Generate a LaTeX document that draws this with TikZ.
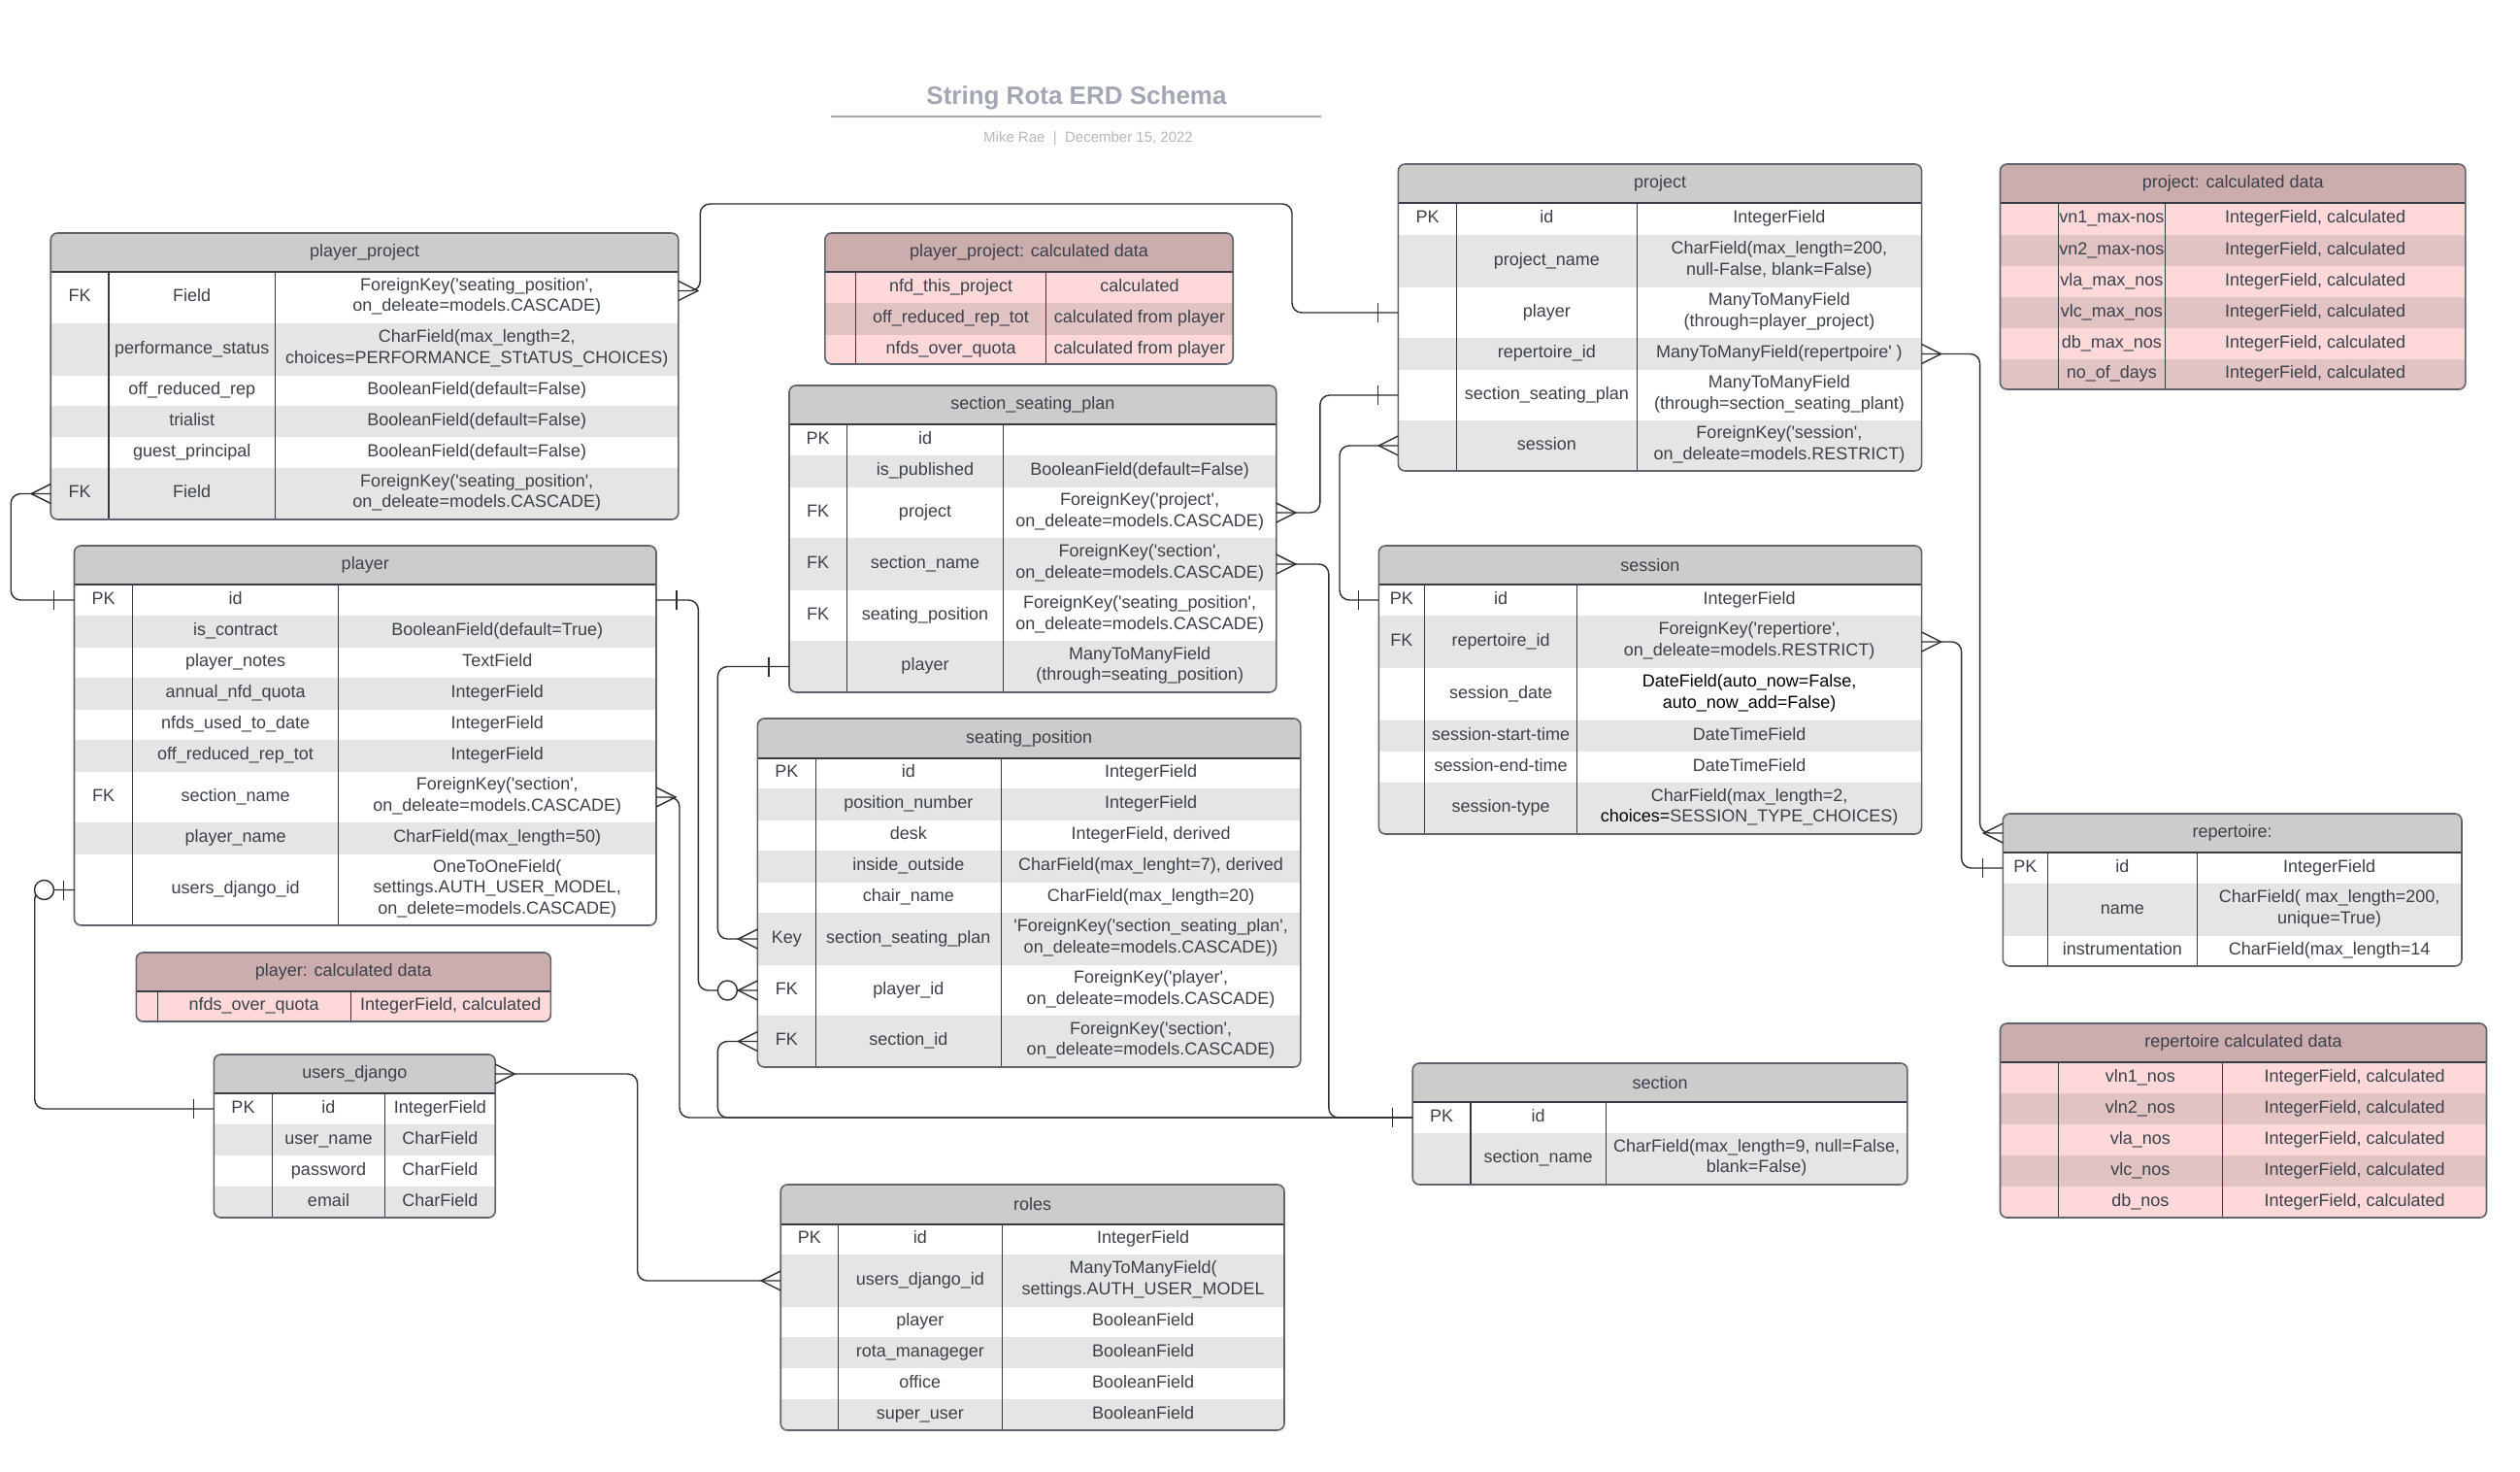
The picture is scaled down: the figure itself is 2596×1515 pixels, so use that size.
\documentclass[tikz,border=0pt]{standalone}
\usepackage{fontspec}
\setmainfont{Liberation Sans}
\definecolor{txt}{HTML}{3B4049}
\definecolor{hdrgray}{HTML}{CCCCCC}
\definecolor{rowgray}{HTML}{E5E5E5}
\definecolor{calchdr}{HTML}{CCADAE}
\definecolor{pinkA}{HTML}{FFD9DA}
\definecolor{pinkB}{HTML}{E2C3C3}
\definecolor{bord}{HTML}{5F636B}
\definecolor{innerc}{HTML}{363B44}
\definecolor{conncol}{HTML}{2E2E2E}
\definecolor{titlecol}{HTML}{A3A7B3}
\definecolor{subcol}{HTML}{B4B7BF}
\newcommand\q{\textquotesingle}
\newcounter{erdrow}
\def\erdsetx#1,#2,#3,#4\relax{\gdef\erdXa{#1}\gdef\erdXb{#2}\gdef\erdXc{#3}\gdef\erdXd{#4}}
\def\erdsety#1,#2,#3\relax{\gdef\erdYa{#1}\gdef\erdYh{#2}\gdef\erdYb{#3}}
\newcommand\erdbegin[5]{%
  \gdef\erdname{#1}\erdsetx#2\relax\erdsety#3\relax\setcounter{erdrow}{0}%
  \begin{scope}
  \clip[rounded corners=7pt] (\erdXa,\erdYa) rectangle (\erdXd,\erdYb);
  \node[hdr, fill=#4, minimum width={(\erdXd-\erdXa)*1pt}, minimum height={(\erdYh-\erdYa)*1pt}, anchor=north west] (#1) at (\erdXa,\erdYa) {#5};
}
\newcommand\erdrow[6]{%
  \stepcounter{erdrow}%
  \node[rowbox, fill=#3, minimum width={(\erdXd-\erdXa)*1pt}, minimum height={(#2-#1)*1pt}, anchor=north west] (\erdname-\arabic{erdrow}) at (\erdXa,#1) {};
  \node[cell] (\erdname-\arabic{erdrow}k) at ({(\erdXa+\erdXb)/2},{(#1+#2)/2}) {#4};
  \node[cell] (\erdname-\arabic{erdrow}f) at ({(\erdXb+\erdXc)/2},{(#1+#2)/2}) {#5};
  \node[cell] (\erdname-\arabic{erdrow}t) at ({(\erdXc+\erdXd)/2},{(#1+#2)/2}) {#6};
}
\newcommand\erdend{%
  \end{scope}
  \draw[sepline] (\erdXa,\erdYh) -- (\erdXd,\erdYh);
  \draw[sepline] (\erdXb,\erdYh) -- (\erdXb,\erdYb);
  \draw[sepline] (\erdXc,\erdYh) -- (\erdXc,\erdYb);
  \draw[border, rounded corners=7pt] (\erdXa,\erdYa) rectangle (\erdXd,\erdYb);
}
\newcommand\crow[2]{\draw[mk] ([yshift=10pt]#1) -- ([xshift=#2*20pt]#1) -- ([yshift=-10pt]#1);}
\newcommand\onebar[3]{\draw[mk] ([xshift=#2*#3pt, yshift=10pt]#1) -- ([xshift=#2*#3pt, yshift=-10pt]#1);}
\newcommand\zerocirc[3]{\draw[mk, fill=white] ([xshift=#2*#3pt]#1) circle (10pt);}
\tikzset{
  every node/.style={font=\fontsize{18}{21.5}\selectfont, text=txt},
  rowbox/.style={inner sep=0pt, outer sep=0pt, draw=none},
  hdr/.style={inner sep=0pt, outer sep=0pt, draw=none},
  cell/.style={inner sep=0pt, align=center, execute at begin node=\strut, execute at end node=\strut},
  conn/.style={draw=conncol, line width=1.4pt, rounded corners=10pt},
  mk/.style={draw=conncol, line width=1.4pt},
  border/.style={draw=bord, line width=1.6pt},
  sepline/.style={draw=innerc, line width=1.3pt},
}
\begin{document}
\begin{tikzpicture}[x=1pt, y=-1pt]
\useasboundingbox (0,0) rectangle (2596,1515);
\fill[white] (0,0) rectangle (2596,1515);

% title
\node[font=\fontsize{26}{30}\selectfont\bfseries, text=titlecol] (title) at (1109,101) {String Rota ERD Schema};
\draw[titlecol, line width=2.5pt] (856,120) -- (1361,120);
\node[font=\fontsize{15}{18}\selectfont, text=subcol] (subtitle) at (1121,143) {Mike Rae \ \textbar\ \ December 15, 2022};

% player_project
\erdbegin{pp}{52.2,111.9,283.6,698.9}{240,280,535}{hdrgray}{player\_project}
\erdrow{280}{333}{white}{FK}{Field}{ForeignKey(\q seating\_position\q,\\on\_deleate=models.CASCADE)}
\erdrow{333}{387}{rowgray}{}{performance\_status}{CharField(max\_length=2,\\choices=PERFORMANCE\_STtATUS\_CHOICES)}
\erdrow{387}{418}{white}{}{off\_reduced\_rep}{BooleanField(default=False)}
\erdrow{418}{450}{rowgray}{}{trialist}{BooleanField(default=False)}
\erdrow{450}{482}{white}{}{guest\_principal}{BooleanField(default=False)}
\erdrow{482}{535}{rowgray}{FK}{Field}{ForeignKey(\q seating\_position\q,\\on\_deleate=models.CASCADE)}
\erdend

% player_project calculated
\erdbegin{ppc}{849.8,881.3,1077.8,1270.2}{240,280,375}{calchdr}{player\_project: calculated data}
\erdrow{280}{312}{pinkA}{}{nfd\_this\_project}{calculated}
\erdrow{312}{345}{pinkB}{}{off\_reduced\_rep\_tot}{calculated from player}
\erdrow{345}{375}{pinkA}{}{nfds\_over\_quota}{calculated from player}
\erdend

% player
\erdbegin{pl}{76.5,136.7,348.5,676}{562,602,953}{hdrgray}{player}
\erdrow{602}{634}{white}{PK}{id}{}
\erdrow{634}{667}{rowgray}{}{is\_contract}{BooleanField(default=True)}
\erdrow{667}{698}{white}{}{player\_notes}{TextField}
\erdrow{698}{731}{rowgray}{}{annual\_nfd\_quota}{IntegerField}
\erdrow{731}{762}{white}{}{nfds\_used\_to\_date}{IntegerField}
\erdrow{762}{795}{rowgray}{}{off\_reduced\_rep\_tot}{IntegerField}
\erdrow{795}{847}{white}{FK}{section\_name}{ForeignKey(\q section\q,\\on\_deleate=models.CASCADE)}
\erdrow{847}{880}{rowgray}{}{player\_name}{CharField(max\_length=50)}
\erdrow{880}{953}{white}{}{users\_django\_id}{OneToOneField(\\settings.AUTH\_USER\_MODEL,\\on\_delete=models.CASCADE)}
\erdend

% player calculated
\erdbegin{plc}{140.3,162.2,361.2,567.3}{981,1021,1052}{calchdr}{player: calculated data}
\erdrow{1021}{1052}{pinkA}{}{nfds\_over\_quota}{IntegerField, calculated}
\erdend

% users_django
\erdbegin{ud}{220.4,280.6,396.4,510.2}{1086,1126,1254}{hdrgray}{users\_django}
\erdrow{1126}{1158}{white}{PK}{id}{IntegerField}
\erdrow{1158}{1190}{rowgray}{}{user\_name}{CharField}
\erdrow{1190}{1222}{white}{}{password}{CharField}
\erdrow{1222}{1254}{rowgray}{}{email}{CharField}
\erdend

% section_seating_plan
\erdbegin{ssp}{813,872.4,1033.6,1314.8}{397,437,713}{hdrgray}{section\_seating\_plan}
\erdrow{437}{469}{white}{PK}{id}{}
\erdrow{469}{502}{rowgray}{}{is\_published}{BooleanField(default=False)}
\erdrow{502}{554}{white}{FK}{project}{ForeignKey(\q project\q,\\on\_deleate=models.CASCADE)}
\erdrow{554}{608}{rowgray}{FK}{section\_name}{ForeignKey(\q section\q,\\on\_deleate=models.CASCADE)}
\erdrow{608}{660}{white}{FK}{seating\_position}{ForeignKey(\q seating\_position\q,\\on\_deleate=models.CASCADE)}
\erdrow{660}{713}{rowgray}{}{player}{ManyToManyField\\(through=seating\_position)}
\erdend

% seating_position
\erdbegin{sp}{780.4,840.3,1031.3,1339.8}{740,781,1099}{hdrgray}{seating\_position}
\erdrow{781}{812}{white}{PK}{id}{IntegerField}
\erdrow{812}{845}{rowgray}{}{position\_number}{IntegerField}
\erdrow{845}{876}{white}{}{desk}{IntegerField, derived}
\erdrow{876}{909}{rowgray}{}{inside\_outside}{CharField(max\_lenght=7), derived}
\erdrow{909}{940}{white}{}{chair\_name}{CharField(max\_length=20)}
\erdrow{940}{994}{rowgray}{Key}{section\_seating\_plan}{\q ForeignKey(\q section\_seating\_plan\q,\\on\_deleate=models.CASCADE))}
\erdrow{994}{1046}{white}{FK}{player\_id}{ForeignKey(\q player\q,\\on\_deleate=models.CASCADE)}
\erdrow{1046}{1099}{rowgray}{FK}{section\_id}{ForeignKey(\q section\q,\\on\_deleate=models.CASCADE)}
\erdend

% roles
\erdbegin{rol}{804.2,863.4,1032.2,1323}{1220,1261,1473}{hdrgray}{roles}
\erdrow{1261}{1292}{white}{PK}{id}{IntegerField}
\erdrow{1292}{1346}{rowgray}{}{users\_django\_id}{ManyToManyField(\\settings.AUTH\_USER\_MODEL}
\erdrow{1346}{1377}{white}{}{player}{BooleanField}
\erdrow{1377}{1409}{rowgray}{}{rota\_manageger}{BooleanField}
\erdrow{1409}{1441}{white}{}{office}{BooleanField}
\erdrow{1441}{1473}{rowgray}{}{super\_user}{BooleanField}
\erdend

% project
\erdbegin{proj}{1440.4,1500.6,1686.3,1979.6}{169,209,485}{hdrgray}{project}
\erdrow{209}{242}{white}{PK}{id}{IntegerField}
\erdrow{242}{296}{rowgray}{}{project\_name}{CharField(max\_length=200,\\null-False, blank=False)}
\erdrow{296}{348}{white}{}{player}{ManyToManyField\\(through=player\_project)}
\erdrow{348}{381}{rowgray}{}{repertoire\_id}{ManyToManyField(repertpoire\q{} )}
\erdrow{381}{433}{white}{}{section\_seating\_plan}{ManyToManyField\\(through=section\_seating\_plant)}
\erdrow{433}{485}{rowgray}{}{session}{ForeignKey(\q session\q,\\on\_deleate=models.RESTRICT)}
\erdend

% session
\erdbegin{ses}{1420.3,1467.6,1624.7,1979.6}{562,602,859}{hdrgray}{session}
\erdrow{602}{634}{white}{PK}{id}{IntegerField}
\erdrow{634}{688}{rowgray}{FK}{repertoire\_id}{ForeignKey(\q repertiore\q,\\on\_deleate=models.RESTRICT)}
\erdrow{688}{742}{white}{}{session\_date}{{\color{black}DateField(auto\_now=False,}\\{\color{black}auto\_now\_add=False)}}
\erdrow{742}{774}{rowgray}{}{session-start-time}{DateTimeField}
\erdrow{774}{806}{white}{}{session-end-time}{DateTimeField}
\erdrow{806}{859}{rowgray}{}{session-type}{CharField(max\_length=2,\\{\color{black}choices=}SESSION\_TYPE\_CHOICES)}
\erdend

% section
\erdbegin{sec}{1455.2,1514.9,1654.5,1964.9}{1095,1135,1220}{hdrgray}{section}
\erdrow{1135}{1167}{white}{PK}{id}{}
\erdrow{1167}{1220}{rowgray}{}{section\_name}{CharField(max\_length=9, null=False,\\blank=False)}
\erdend

% project calculated
\erdbegin{pjc}{2060.5,2120.3,2230.3,2539.9}{169,209,401}{calchdr}{project: calculated data}
\erdrow{209}{242}{pinkA}{}{vn1\_max-nos}{IntegerField, calculated}
\erdrow{242}{274}{pinkB}{}{vn2\_max-nos}{IntegerField, calculated}
\erdrow{274}{306}{pinkA}{}{vla\_max\_nos}{IntegerField, calculated}
\erdrow{306}{338}{pinkB}{}{vlc\_max\_nos}{IntegerField, calculated}
\erdrow{338}{370}{pinkA}{}{db\_max\_nos}{IntegerField, calculated}
\erdrow{370}{401}{pinkB}{}{no\_of\_days}{IntegerField, calculated}
\erdend

% repertoire
\erdbegin{rep}{2063.3,2109.3,2263.3,2536}{838,878,995}{hdrgray}{repertoire:}
\erdrow{878}{910}{white}{PK}{id}{IntegerField}
\erdrow{910}{964}{rowgray}{}{name}{CharField( max\_length=200,\\unique=True)}
\erdrow{964}{995}{white}{}{instrumentation}{CharField(max\_length=14}
\erdend

% repertoire calculated
\erdbegin{rpc}{2060.5,2120.3,2289.6,2561.5}{1054,1094,1254}{calchdr}{repertoire calculated data}
\erdrow{1094}{1126}{pinkA}{}{vln1\_nos}{IntegerField, calculated}
\erdrow{1126}{1158}{pinkB}{}{vln2\_nos}{IntegerField, calculated}
\erdrow{1158}{1190}{pinkA}{}{vla\_nos}{IntegerField, calculated}
\erdrow{1190}{1222}{pinkB}{}{vlc\_nos}{IntegerField, calculated}
\erdrow{1222}{1254}{pinkA}{}{db\_nos}{IntegerField, calculated}
\erdend

% connectors
\coordinate (pp1c) at ([yshift=7pt]pp-1.east);
\draw[conn] (pp1c) -| (721.3,210) -- (1331,210) |- (proj-3.west);
\draw[conn] (pp-6.west) -- ++(-41,0) |- (pl-1.west);
\draw[conn] (pl-1.east) -- ++(43.4,0) |- (sp-7.west);
\draw[conn] (pl-7.east) -- ++(24,0) |- (sec-1.west);
\draw[conn] (ssp-6.west) -- ++(-73.6,0) |- (sp-6.west);
\draw[conn] (sp-8.west) -- ++(-41,0) |- (sec-1.west);
\draw[conn] (ssp-4.east) -- ++(54,0) |- (sec-1.west);
\draw[conn] (ssp-3.east) -- ++(45,0) |- (proj-5.west);
\draw[conn] (proj-6.west) -- ++(-60.4,0) |- (ses-1.west);
\draw[conn] (proj-4.east) -- ++(60,0) |- (rep.west);
\draw[conn] (ses-2.east) -- ++(41,0) |- (rep-1.west);
\draw[conn] (ud.east) -- ++(146.5,0) |- (rol-2.west);
\draw[conn] (pl-9.west) -- ++(-40.8,0) |- (ud-1.west);

% end markers
\crow{pp1c}{1} \onebar{proj-3.west}{-1}{21}
\crow{pp-6.west}{-1} \onebar{pl-1.west}{-1}{21}
\onebar{pl-1.east}{1}{21} \crow{sp-7.west}{-1} \zerocirc{sp-7.west}{-1}{31}
\crow{pl-7.east}{1} \onebar{sec-1.west}{-1}{21}
\onebar{ssp-6.west}{-1}{21} \crow{sp-6.west}{-1}
\crow{sp-8.west}{-1}
\crow{ssp-4.east}{1}
\crow{ssp-3.east}{1} \onebar{proj-5.west}{-1}{21}
\crow{proj-6.west}{-1} \onebar{ses-1.west}{-1}{21}
\crow{proj-4.east}{1} \crow{rep.west}{-1}
\crow{ses-2.east}{1} \onebar{rep-1.west}{-1}{21}
\crow{ud.east}{1} \crow{rol-2.west}{-1}
\onebar{pl-9.west}{-1}{11} \zerocirc{pl-9.west}{-1}{31} \onebar{ud-1.west}{-1}{21}
\end{tikzpicture}
\end{document}
